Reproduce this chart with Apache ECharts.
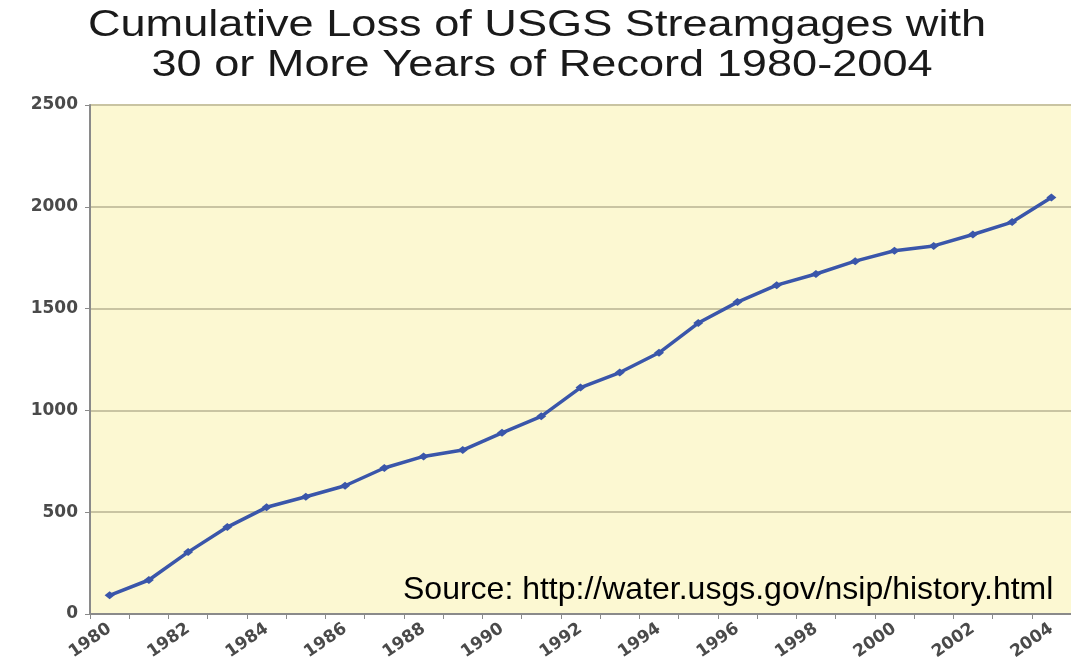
<!DOCTYPE html>
<html>
<head>
<meta charset="utf-8">
<script src="https://cdn.jsdelivr.net/npm/echarts@6/dist/echarts.min.js"></script>
<style>
html,body{margin:0;padding:0;background:#fff;}
#chart{width:1071px;height:666px;}
</style>
</head>
<body>
<div id="chart"></div>
<script>
const years = ['1980','1981','1982','1983','1984','1985','1986','1987','1988','1989','1990','1991','1992','1993','1994','1995','1996','1997','1998','1999','2000','2001','2002','2003','2004'];
const cumulativeLoss = [92,167,304,427,524,576,630,717,774,805,890,971,1112,1186,1283,1429,1532,1615,1670,1733,1784,1808,1864,1925,2046];
const yTicks = [0,500,1000,1500,2000,2500];
const titleLines = ['Cumulative Loss of USGS Streamgages with','30 or More Years of Record 1980-2004'];
const sourceText = 'Source: http://water.usgs.gov/nsip/history.html';

const chart = echarts.init(document.getElementById('chart'), null, {renderer:'canvas'});
chart.setOption({
  animation:false,
  backgroundColor:'#ffffff',
  grid:{left:90, top:105, width:994, height:509, show:true, backgroundColor:'#FCF8D2', borderWidth:0},
  graphic:[
    {type:'text', x:537, y:26, scaleX:1.22, style:{text:titleLines[0], font:'37px "Liberation Sans", Arial, sans-serif', fill:'#1a1a1a', align:'center', verticalAlign:'middle'}},
    {type:'text', x:542, y:66, scaleX:1.22, style:{text:titleLines[1], font:'37px "Liberation Sans", Arial, sans-serif', fill:'#1a1a1a', align:'center', verticalAlign:'middle'}},
    {type:'text', x:403, y:590, z:100, style:{text:sourceText, font:'32px "Liberation Sans", Arial, sans-serif', fill:'#000000', align:'left', verticalAlign:'middle'}}
  ],
  xAxis:{
    type:'category',
    data:years,
    boundaryGap:true,
    axisLine:{show:true, lineStyle:{color:'#8a8a8a', width:2}},
    axisTick:{show:true, interval:0, length:5, lineStyle:{color:'#8a8a8a', width:1}},
    axisLabel:{interval:1, rotate:35, margin:13, fontSize:17, fontWeight:'bold', fontFamily:'"DejaVu Sans", sans-serif', color:'#4a4a4a'},
    splitLine:{show:false}
  },
  yAxis:{
    type:'value',
    min:yTicks[0], max:yTicks[yTicks.length-1], interval:yTicks[1]-yTicks[0],
    axisLine:{show:true, lineStyle:{color:'#8a8a8a', width:2}},
    axisTick:{show:true, length:5, lineStyle:{color:'#8a8a8a', width:1}},
    axisLabel:{margin:12, fontSize:17, fontWeight:'bold', fontFamily:'"DejaVu Sans", sans-serif', color:'#4a4a4a', formatter:function(v){return String(v);}},
    splitLine:{show:true, lineStyle:{color:'#C9C4A2', width:2}}
  },
  series:[{
    type:'line',
    data:cumulativeLoss,
    symbol:'diamond',
    symbolSize:[10,8],
    lineStyle:{color:'#3A56AA', width:3.5},
    itemStyle:{color:'#3A56AA'}
  }]
});
</script>
</body>
</html>
